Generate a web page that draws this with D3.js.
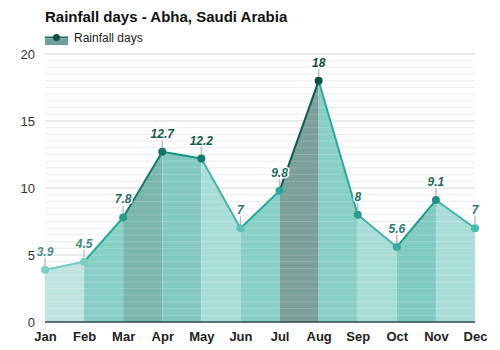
<!DOCTYPE html>
<html>
<head>
<meta charset="utf-8">
<script src="https://cdn.jsdelivr.net/npm/d3@7"></script>
<style>
  html, body { margin: 0; padding: 0; background: #fff; }
  svg { display: block; font-family: "Liberation Sans", Arial, sans-serif; }
</style>
</head>
<body>
<svg id="chart" width="500" height="350"></svg>
<script>
// Monthly rainfall days
const months = ["Jan","Feb","Mar","Apr","May","Jun","Jul","Aug","Sep","Oct","Nov","Dec"];
const rainDays = [3.9, 4.5, 7.8, 12.7, 12.2, 7, 9.8, 18, 8, 5.6, 9.1, 7];
const yTicks = [0, 5, 10, 15, 20];

// Shading for each span between consecutive months
const bandFill = ["#c0e4e0","#88cfc6","#7ab5ae","#82c9c0","#a9ddd7","#88cfc6","#7b9f99","#88cfc6","#a9ddd7","#7fcbc1","#a9ddd7"];
const segStroke = ["#74cbbf","#27a89a","#137a6e","#1b8f82","#45b3a6","#27a89a","#0d5c52","#27a89a","#45b3a6","#1e9c8e","#45b3a6"];
const dotFill = ["#7ccdc2","#7ccdc2","#2a9d90","#137466","#157a6d","#5fc0b4","#26a89a","#0d4f47","#2a9d90","#3aaea0","#1e9184","#44bcae"];
const labelFill = ["#4a8f88","#3f8a83","#1f6b63","#145a52","#145a52","#2b7a72","#1f6b63","#0e4a43","#1f6b63","#2b7a72","#1f6b63","#2b7a72"];

const svg = d3.select("#chart");
const margin = { left: 45, right: 25, top: 54, bottom: 28 };
const W = 500, H = 350;

const x = d3.scalePoint().domain(months).range([margin.left, W - margin.right]);
const y = d3.scaleLinear().domain([0, 20]).range([H - margin.bottom, margin.top]);

// Title
svg.append("text")
  .attr("x", 45).attr("y", 22)
  .attr("font-size", 15).attr("font-weight", "bold").attr("fill", "#111")
  .text("Rainfall days - Abha, Saudi Arabia");

// Legend
const lg = svg.append("g");
lg.append("rect").attr("x", 45).attr("y", 39).attr("width", 23).attr("height", 6).attr("fill", "#6f9f98");
lg.append("line").attr("x1", 45).attr("x2", 68).attr("y1", 37.5).attr("y2", 37.5)
  .attr("stroke", "#1b6b60").attr("stroke-width", 2);
lg.append("circle").attr("cx", 56.5).attr("cy", 37.5).attr("r", 3.5).attr("fill", "#0d4f47");
lg.append("text").attr("x", 74).attr("y", 42).attr("font-size", 12).attr("fill", "#222").text("Rainfall days");

// Grid: minor every half day, major every 5
const minor = d3.range(0.5, 20.01, 0.5).filter(v => v % 5 !== 0);
svg.append("g").selectAll("line").data(minor).join("line")
  .attr("x1", margin.left).attr("x2", W - margin.right)
  .attr("y1", d => y(d)).attr("y2", d => y(d))
  .attr("stroke", "#ececec").attr("stroke-width", 1);
svg.append("g").selectAll("line").data(yTicks.filter(v => v > 0)).join("line")
  .attr("x1", margin.left).attr("x2", W - margin.right)
  .attr("y1", d => y(d)).attr("y2", d => y(d))
  .attr("stroke", "#d6d6d6").attr("stroke-width", 1);

// Filled bands under the line, one per month span
const pts = rainDays.map((v, i) => [x(months[i]), y(v)]);
const area = d3.area().x(d => d[0]).y0(y(0)).y1(d => d[1]);
const bands = svg.append("g");
for (let i = 0; i < pts.length - 1; i++) {
  bands.append("path").attr("d", area([pts[i], pts[i + 1]])).attr("fill", bandFill[i]);
}
// faint stripes through the fill
const stripeClip = svg.append("clipPath").attr("id", "areaClip");
stripeClip.append("path").attr("d", area(pts));
svg.append("g").attr("clip-path", "url(#areaClip)")
  .selectAll("line").data(d3.range(0.5, 20.01, 0.5)).join("line")
  .attr("x1", margin.left).attr("x2", W - margin.right)
  .attr("y1", d => y(d)).attr("y2", d => y(d))
  .attr("stroke", "#ffffff").attr("stroke-opacity", 0.18).attr("stroke-width", 1);

// Baseline
svg.append("line").attr("x1", margin.left).attr("x2", W - margin.right)
  .attr("y1", y(0)).attr("y2", y(0)).attr("stroke", "#2c4a47").attr("stroke-width", 1.5);

// Line segments
const lineGen = d3.line();
const segs = svg.append("g");
for (let i = 0; i < pts.length - 1; i++) {
  segs.append("path").attr("d", lineGen([pts[i], pts[i + 1]]))
    .attr("fill", "none").attr("stroke", segStroke[i]).attr("stroke-width", 2);
}

// Value label ticks
svg.append("g").selectAll("line").data(rainDays).join("line")
  .attr("x1", (d, i) => x(months[i])).attr("x2", (d, i) => x(months[i]))
  .attr("y1", d => y(d) - 4).attr("y2", d => y(d) - 12)
  .attr("stroke", "#bdbdbd").attr("stroke-width", 1.5);

// Points
svg.append("g").selectAll("circle").data(rainDays).join("circle")
  .attr("cx", (d, i) => x(months[i])).attr("cy", d => y(d)).attr("r", 4)
  .attr("fill", (d, i) => dotFill[i]);

// Value labels
svg.append("g").selectAll("text").data(rainDays).join("text")
  .attr("x", (d, i) => x(months[i])).attr("y", d => y(d) - 14)
  .attr("text-anchor", "middle").attr("font-size", 12)
  .attr("font-weight", "bold").attr("font-style", "italic")
  .attr("fill", (d, i) => labelFill[i])
  .attr("stroke", "#fff").attr("stroke-width", 3).attr("paint-order", "stroke")
  .text(d => d);

// Axes
const yAxis = d3.axisLeft(y).tickValues(yTicks).tickSize(0).tickPadding(10);
svg.append("g").attr("transform", `translate(${margin.left},0)`).call(yAxis)
  .call(g => g.select(".domain").remove())
  .call(g => g.selectAll("text").attr("font-size", 13).attr("fill", "#333")
    .attr("font-family", "'Liberation Sans', Arial, sans-serif"));

const xAxis = d3.axisBottom(x).tickSize(0).tickPadding(10);
svg.append("g").attr("transform", `translate(0,${y(0)})`).call(xAxis)
  .call(g => g.select(".domain").remove())
  .call(g => g.selectAll("text").attr("font-size", 13).attr("font-weight", "bold").attr("fill", "#222")
    .attr("font-family", "'Liberation Sans', Arial, sans-serif"));
</script>
</body>
</html>
